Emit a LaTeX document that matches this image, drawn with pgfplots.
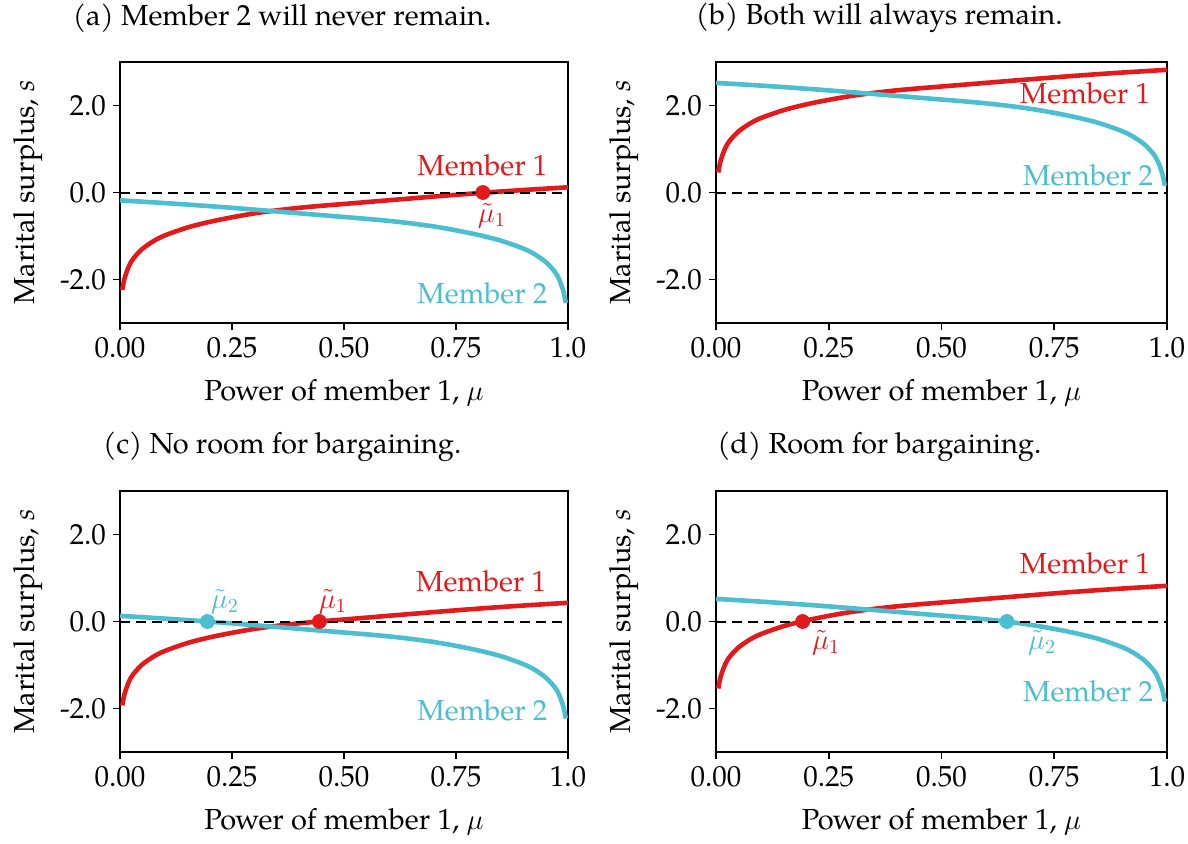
\documentclass[border=0pt]{standalone}
\usepackage{pgfplots}
\pgfplotsset{compat=1.18}
\usepackage{fontspec}
\setmainfont{TeX Gyre Pagella}

\definecolor{mred}{HTML}{E31A1C}
\definecolor{mcyan}{HTML}{4BBFCF}

\pgfplotsset{
  panel/.style={
    scale only axis, width=224pt, height=130.5pt, anchor=south west,
    xmin=0, xmax=1, ymin=-3, ymax=3,
    xtick={0,0.25,0.5,0.75,1}, xticklabels={0.00,0.25,0.50,0.75,1.0},
    ytick={-2,0,2}, yticklabels={-2.0,0.0,2.0},
    tick align=outside, tick pos=left, major tick length=3.5pt,
    axis line style={line width=0.8pt},
    every tick/.style={black, line width=0.8pt},
    font=\fontsize{14.5}{17}\selectfont,
    xlabel={Power of member 1, $\mu$}, ylabel={Marital surplus, \textit{s}},
    xlabel style={at={(axis description cs:0.5,-0.268)}, anchor=center},
    ylabel style={at={(axis description cs:-0.205,0.5)}, anchor=center, rotate=0},
    title style={at={(axis description cs:0.362,1)}, anchor=center, yshift=16pt},
  },
  m1/.style={mred, line width=2.3pt, smooth},
  m2/.style={mcyan, line width=2.3pt, smooth},
  zero/.style={black, line width=1pt, dash pattern=on 5pt off 3pt},
}

\begin{document}
\begin{tikzpicture}[font=\fontsize{14.5}{17}\selectfont]
\path[use as bounding box] (0,0) rectangle (594pt,421.5pt);

% (a)
\begin{axis}[panel, at={(60pt,260pt)}, title={(a) Member 2 will never remain.}]
\addplot[m1] table {
x y
0.005 -2.24
0.01 -1.98
0.02 -1.69
0.03 -1.515
0.05 -1.295
0.075 -1.116
0.1 -0.987
0.15 -0.806
0.2 -0.675
0.25 -0.57
0.3 -0.48
0.35 -0.41
0.4 -0.352
0.45 -0.305
0.5 -0.263
0.55 -0.221
0.6 -0.178
0.65 -0.136
0.7 -0.094
0.75 -0.053
0.8 -0.014
0.85 0.023
0.9 0.057
0.95 0.089
1 0.12
};
\addplot[m2] table {
x y
0 -0.18
0.05 -0.211
0.1 -0.243
0.15 -0.277
0.2 -0.314
0.25 -0.353
0.3 -0.394
0.35 -0.436
0.4 -0.478
0.45 -0.521
0.5 -0.563
0.55 -0.605
0.6 -0.652
0.65 -0.71
0.7 -0.78
0.75 -0.87
0.8 -0.975
0.85 -1.106
0.9 -1.287
0.925 -1.416
0.95 -1.595
0.97 -1.815
0.98 -1.99
0.99 -2.28
0.995 -2.54
};
\addplot[zero] coordinates {(0,0) (1,0)};
\addplot[only marks, mark=*, mark size=3.5pt, mred] coordinates {(0.81,0)};
\node[mred, anchor=east] at (axis cs:0.97,0.62) {Member 1};
\node[mcyan, anchor=east] at (axis cs:0.97,-2.32) {Member 2};
\node[mred] at (axis cs:0.83,-0.53) {$\tilde{\mu}_1$};
\end{axis}

% (b)
\begin{axis}[panel, at={(358pt,260pt)}, width=225.5pt, title={(b) Both will always remain.}]
\addplot[m1] table {
x y
0.005 0.46
0.01 0.72
0.02 1.01
0.03 1.185
0.05 1.405
0.075 1.584
0.1 1.713
0.15 1.894
0.2 2.025
0.25 2.13
0.3 2.22
0.35 2.29
0.4 2.348
0.45 2.395
0.5 2.437
0.55 2.479
0.6 2.522
0.65 2.564
0.7 2.606
0.75 2.647
0.8 2.686
0.85 2.723
0.9 2.757
0.95 2.789
1 2.82
};
\addplot[m2] table {
x y
0 2.52
0.05 2.489
0.1 2.457
0.15 2.423
0.2 2.386
0.25 2.347
0.3 2.306
0.35 2.264
0.4 2.222
0.45 2.179
0.5 2.137
0.55 2.095
0.6 2.048
0.65 1.99
0.7 1.92
0.75 1.83
0.8 1.725
0.85 1.594
0.9 1.413
0.925 1.284
0.95 1.105
0.97 0.885
0.98 0.71
0.99 0.42
0.995 0.16
};
\addplot[zero] coordinates {(0,0) (1,0)};
\node[mred, anchor=east] at (axis cs:0.978,2.28) {Member 1};
\node[mcyan, anchor=east] at (axis cs:0.985,0.39) {Member 2};
\end{axis}

% (c)
\begin{axis}[panel, at={(60pt,45.5pt)}, title={(c) No room for bargaining.}]
\addplot[m1] table {
x y
0.005 -1.93
0.01 -1.67
0.02 -1.38
0.03 -1.205
0.05 -0.985
0.075 -0.806
0.1 -0.677
0.15 -0.496
0.2 -0.365
0.25 -0.26
0.3 -0.17
0.35 -0.10
0.4 -0.042
0.45 0.005
0.5 0.047
0.55 0.089
0.6 0.132
0.65 0.174
0.7 0.216
0.75 0.257
0.8 0.296
0.85 0.333
0.9 0.367
0.95 0.399
1 0.43
};
\addplot[m2] table {
x y
0 0.13
0.05 0.099
0.1 0.067
0.15 0.033
0.2 -0.004
0.25 -0.043
0.3 -0.084
0.35 -0.126
0.4 -0.168
0.45 -0.211
0.5 -0.253
0.55 -0.295
0.6 -0.342
0.65 -0.40
0.7 -0.47
0.75 -0.56
0.8 -0.665
0.85 -0.796
0.9 -0.977
0.925 -1.106
0.95 -1.285
0.97 -1.505
0.98 -1.68
0.99 -1.97
0.995 -2.23
};
\addplot[zero] coordinates {(0,0) (1,0)};
\addplot[only marks, mark=*, mark size=3.5pt, mcyan] coordinates {(0.195,0)};
\addplot[only marks, mark=*, mark size=3.5pt, mred] coordinates {(0.445,0)};
\node[mred, anchor=east] at (axis cs:0.967,0.92) {Member 1};
\node[mcyan, anchor=east] at (axis cs:0.97,-2.03) {Member 2};
\node[mcyan] at (axis cs:0.234,0.46) {$\tilde{\mu}_2$};
\node[mred] at (axis cs:0.475,0.46) {$\tilde{\mu}_1$};
\end{axis}

% (d)
\begin{axis}[panel, at={(358pt,45.5pt)}, width=225.5pt, title={(d) Room for bargaining.}]
\addplot[m1] table {
x y
0.005 -1.54
0.01 -1.28
0.02 -0.99
0.03 -0.815
0.05 -0.595
0.075 -0.416
0.1 -0.287
0.15 -0.106
0.2 0.025
0.25 0.13
0.3 0.22
0.35 0.29
0.4 0.348
0.45 0.395
0.5 0.437
0.55 0.479
0.6 0.522
0.65 0.564
0.7 0.606
0.75 0.647
0.8 0.686
0.85 0.723
0.9 0.757
0.95 0.789
1 0.82
};
\addplot[m2] table {
x y
0 0.52
0.05 0.489
0.1 0.457
0.15 0.423
0.2 0.386
0.25 0.347
0.3 0.306
0.35 0.264
0.4 0.222
0.45 0.179
0.5 0.137
0.55 0.095
0.6 0.048
0.65 -0.01
0.7 -0.08
0.75 -0.17
0.8 -0.275
0.85 -0.406
0.9 -0.587
0.925 -0.716
0.95 -0.895
0.97 -1.115
0.98 -1.29
0.99 -1.58
0.995 -1.84
};
\addplot[zero] coordinates {(0,0) (1,0)};
\addplot[only marks, mark=*, mark size=3.5pt, mred] coordinates {(0.192,0)};
\addplot[only marks, mark=*, mark size=3.5pt, mcyan] coordinates {(0.645,0)};
\node[mred, anchor=east] at (axis cs:0.978,1.34) {Member 1};
\node[mcyan, anchor=east] at (axis cs:0.985,-1.61) {Member 2};
\node[mred] at (axis cs:0.244,-0.48) {$\tilde{\mu}_1$};
\node[mcyan] at (axis cs:0.723,-0.48) {$\tilde{\mu}_2$};
\end{axis}
\end{tikzpicture}
\end{document}
